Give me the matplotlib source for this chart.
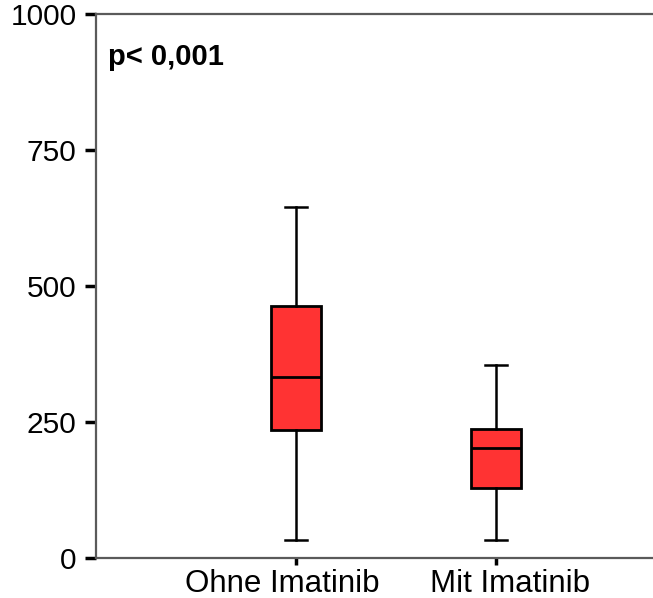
import matplotlib
matplotlib.use("Agg")
import matplotlib.pyplot as plt
from matplotlib.transforms import ScaledTranslation

plt.rcParams["font.family"] = ["Liberation Sans", "DejaVu Sans"]

# data
groups = ["Ohne Imatinib", "Mit Imatinib"]
whis_lo = [34, 34]
q1 = [236, 128]
median = [333, 202]
q3 = [464, 238]
whis_hi = [645, 354]

BOX_RED = "#FF3333"
SPINE = "#5a5a5a"

fig = plt.figure(figsize=(6.53, 5.98), dpi=100)
ax = fig.add_axes([96 / 653, 1 - 558 / 598, 1 - 96 / 653 + 0.01, (558 - 14) / 598])

stats = [dict(label=g, whislo=lo, q1=a, med=m, q3=b, whishi=hi, fliers=[])
         for g, lo, a, m, b, hi in zip(groups, whis_lo, q1, median, q3, whis_hi)]

ax.bxp(stats, positions=[1, 2], widths=0.25, capwidths=0.11, patch_artist=True,
       boxprops=dict(facecolor=BOX_RED, edgecolor="black", linewidth=2.0),
       medianprops=dict(color="black", linewidth=2.0),
       whiskerprops=dict(color="black", linewidth=1.8),
       capprops=dict(color="black", linewidth=1.8),
       showfliers=False)

ax.set_xlim(0, 2.82)
ax.set_ylim(0, 1000)
ax.set_yticks([0, 250, 500, 750, 1000])
ax.set_xticks([1, 2])
ax.set_xticklabels(groups)

for side in ["left", "top", "bottom"]:
    ax.spines[side].set_color(SPINE)
    ax.spines[side].set_linewidth(1.6)
ax.spines["right"].set_visible(False)

ax.tick_params(axis="y", length=8, width=2.5, color="black", labelsize=21.5, pad=6)
ax.tick_params(axis="x", length=5, width=2.5, color="black", labelsize=22.5, pad=3)

# shift category labels sideways like in the original
offsets = [-14, 14]
for lbl, dx in zip(ax.get_xticklabels(), offsets):
    lbl.set_transform(lbl.get_transform() + ScaledTranslation(dx / 100, 0, fig.dpi_scale_trans))

ax.text(108 / 653, 1 - 65 / 598, "p< 0,001", transform=fig.transFigure,
        fontsize=21, fontweight="bold", ha="left", va="baseline")

fig.savefig("out.png", dpi=100, facecolor="white")
